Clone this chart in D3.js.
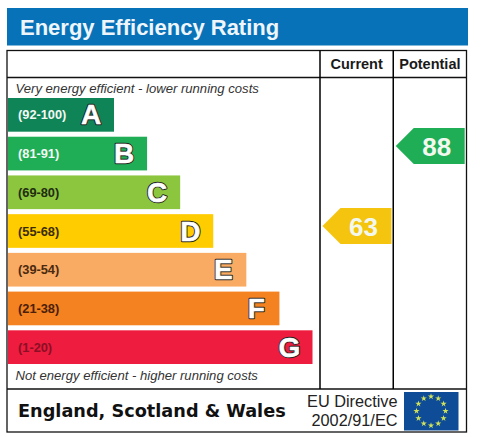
<!DOCTYPE html>
<html>
<head>
<meta charset="utf-8">
<script src="https://cdn.jsdelivr.net/npm/d3@7/dist/d3.min.js"></script>
<style>
    html, body { margin: 0; padding: 0; background: #fff; }
    svg { display: block; }
</style>
</head>
<body>
<svg id="chart" width="482" height="437"></svg>
<script>
const bands = ["A", "B", "C", "D", "E", "F", "G"];
const ranges = ["(92-100)", "(81-91)", "(69-80)", "(55-68)", "(39-54)", "(21-38)", "(1-20)"];
const bandLengths = [1, 2, 3, 4, 5, 6, 7];
const bandColors = ["#0f8457", "#1fae55", "#8cc63f", "#ffcc00", "#f9aa63", "#f58220", "#ee1c3e"];
const rangeColors = ["#f4f8f4", "#f4f8f4", "#1f2d10", "#3a2c00", "#4a2a10", "#4a2008", "#8a0f25"];
const columns = ["Current", "Potential"];
const ratings = [63, 88];
const ratingColors = ["#f4c40f", "#1fae55"];
const titleText = "Energy Efficiency Rating";
const topNote = "Very energy efficient - lower running costs";
const bottomNote = "Not energy efficient - higher running costs";
const footerText = "England, Scotland & Wales";
const directiveLines = ["EU Directive", "2002/91/EC"];
const flagStars = d3.range(12);

const svg = d3.select("#chart");
const sans = "'Liberation Sans', Arial, sans-serif";

const x = d3.scaleLinear().domain([1, 7]).range([114, 312.5]);
const y = d3.scaleBand().domain(bands).range([98, 364]).paddingInner(0.13).paddingOuter(0);
const ratingY = d3.scaleLinear().domain([1, 100]).range([424.4, 107.6]);
const columnX = d3.scaleBand().domain(columns).range([320, 393 + 73.5]);

// title bar
svg.append("rect").attr("x", 7).attr("y", 8).attr("width", 461).attr("height", 37.5).attr("fill", "#0872b8");
svg.append("text").attr("x", 20).attr("y", 34.5)
    .attr("font-family", sans).attr("font-weight", "bold").attr("font-size", 22)
    .attr("fill", "#eef6fb").text(titleText);

// frame and dividers
const ink = "#111";
svg.append("rect").attr("x", 7).attr("y", 50.5).attr("width", 459.5).attr("height", 381.5)
    .attr("fill", "#fff").attr("stroke", ink).attr("stroke-width", 1.3);
svg.append("line").attr("x1", 7).attr("x2", 466.5).attr("y1", 77.5).attr("y2", 77.5).attr("stroke", ink).attr("stroke-width", 1.3);
svg.append("line").attr("x1", 7).attr("x2", 466.5).attr("y1", 389).attr("y2", 389).attr("stroke", ink).attr("stroke-width", 1.3);
columns.forEach((c) => {
    svg.append("line").attr("x1", columnX(c)).attr("x2", columnX(c)).attr("y1", 50.5).attr("y2", 389)
        .attr("stroke", "#000").attr("stroke-width", 1.5);
    svg.append("text").attr("x", columnX(c) + columnX.bandwidth() / 2).attr("y", 69)
        .attr("text-anchor", "middle").attr("font-family", sans).attr("font-weight", "bold")
        .attr("font-size", 14.5).attr("fill", "#1a1a1a").text(c);
});

// notes
svg.append("text").attr("x", 15.5).attr("y", 92.5).attr("font-family", sans).attr("font-style", "italic")
    .attr("font-size", 13.1).attr("fill", "#333").text(topNote);
svg.append("text").attr("x", 15.5).attr("y", 380).attr("font-family", sans).attr("font-style", "italic")
    .attr("font-size", 13.1).attr("fill", "#333").text(bottomNote);

// band bars
const rows = svg.selectAll("g.band").data(bands).enter().append("g").attr("class", "band");
rows.append("rect")
    .attr("x", 8)
    .attr("y", (d) => y(d))
    .attr("width", (d, i) => x(bandLengths[i]) - 8)
    .attr("height", y.bandwidth())
    .attr("fill", (d, i) => bandColors[i]);
rows.append("text")
    .attr("x", 18)
    .attr("y", (d) => y(d) + y.bandwidth() / 2 + 4.5)
    .attr("font-family", sans).attr("font-weight", "bold").attr("font-size", 12.8)
    .attr("fill", (d, i) => rangeColors[i])
    .text((d, i) => ranges[i]);

// letters: dark outline under a white one
const letter = (sel) => sel
    .attr("x", (d, i) => x(bandLengths[i]) - 23)
    .attr("y", (d) => y(d) + y.bandwidth() / 2 + 9.5)
    .attr("text-anchor", "middle")
    .attr("font-family", sans).attr("font-weight", "bold").attr("font-size", 28)
    .attr("stroke-linejoin", "round")
    .text((d) => d);
rows.append("text").call(letter).attr("fill", "#222").attr("stroke", "#222").attr("stroke-width", 2.4);
rows.append("text").call(letter).attr("fill", "#fff").attr("stroke", "#fff").attr("stroke-width", 0.5);

// rating arrows
const arrowH = 36;
const arrowPath = (right, left, cy) => {
    const line = d3.line();
    return line([
        [left, cy],
        [left + 18, cy - arrowH / 2],
        [right, cy - arrowH / 2],
        [right, cy + arrowH / 2],
        [left + 18, cy + arrowH / 2],
    ]) + "Z";
};
columns.forEach((c, i) => {
    const left = columnX(c) + 2.5;
    const right = columnX(c) + columnX.bandwidth() - 1.8;
    const cy = ratingY(ratings[i]);
    svg.append("path").attr("d", arrowPath(right, left, cy)).attr("fill", ratingColors[i]);
    svg.append("text").attr("x", left + 41).attr("y", cy + 9.5)
        .attr("text-anchor", "middle").attr("font-family", sans).attr("font-weight", "bold")
        .attr("font-size", 26).attr("fill", "#f3f8ee").text(ratings[i]);
});

// footer
svg.append("text").attr("x", 18).attr("y", 416.5)
    .attr("font-family", "'DejaVu Sans', Verdana, sans-serif").attr("font-weight", "bold")
    .attr("font-size", 17.7).attr("fill", "#111").text(footerText);
directiveLines.forEach((t, i) => {
    svg.append("text").attr("x", 397.5).attr("y", 406.5 + i * 19)
        .attr("text-anchor", "end").attr("font-family", sans).attr("font-size", 16.3)
        .attr("fill", "#222").text(t);
});

// eu flag
svg.append("rect").attr("x", 404).attr("y", 392).attr("width", 54.5).attr("height", 38.5).attr("fill", "#0f4c97");
const starAngle = d3.scaleLinear().domain([0, 12]).range([0, 2 * Math.PI]);
svg.selectAll("path.star").data(flagStars).enter().append("path")
    .attr("class", "star")
    .attr("d", d3.symbol(d3.symbolStar, 12))
    .attr("transform", (d) => `translate(${431 + 14.5 * Math.sin(starAngle(d))},${411 - 14.5 * Math.cos(starAngle(d))})`)
    .attr("fill", "#cfe25a");
</script>
</body>
</html>
